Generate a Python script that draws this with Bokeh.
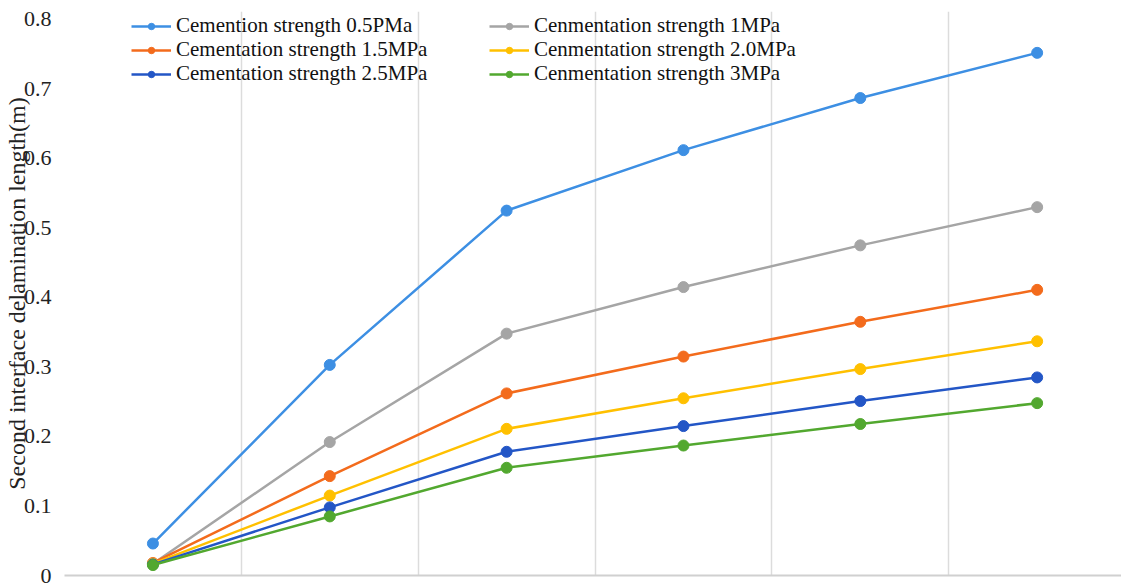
from bokeh.plotting import figure
from bokeh.models import Legend, LegendItem, FixedTicker, Range1d
from bokeh.embed import file_html
from bokeh.resources import INLINE

# ---- data ----
x_pos = [0, 1, 2, 3, 4, 5]
series_names = [
    "Cemention strength 0.5PMa",
    "Cenmentation strength 1MPa",
    "Cementation strength 1.5MPa",
    "Cenmentation strength 2.0MPa",
    "Cementation strength 2.5MPa",
    "Cenmentation strength 3MPa",
]
s05 = [0.046, 0.303, 0.525, 0.612, 0.687, 0.752]
s10 = [0.017, 0.192, 0.348, 0.415, 0.475, 0.530]
s15 = [0.018, 0.143, 0.262, 0.315, 0.365, 0.411]
s20 = [0.017, 0.115, 0.211, 0.255, 0.297, 0.337]
s25 = [0.016, 0.098, 0.178, 0.215, 0.251, 0.285]
s30 = [0.015, 0.085, 0.155, 0.187, 0.218, 0.248]
series_values = [s05, s10, s15, s20, s25, s30]
colors = ["#3d8fe3", "#a5a5a5", "#f36b1c", "#ffc000", "#2356c6", "#52a82f"]
y_ticks = [0, 0.1, 0.2, 0.3, 0.4, 0.5, 0.6, 0.7, 0.8]
y_tick_labels = ["0", "0.1", "0.2", "0.3", "0.4", "0.5", "0.6", "0.7", "0.8"]
y_label = "Second interface delamination length(m)"

FONT = "Liberation Serif"

p = figure(width=1121, height=584, output_backend="svg", toolbar_location=None,
           x_range=Range1d(-0.5, 5.477), y_range=Range1d(0, 0.8115),
           min_border_left=63, min_border_right=0, min_border_top=11, min_border_bottom=9)
p.outline_line_color = None
p.background_fill_color = "white"
p.border_fill_color = "white"

# grid (vertical lines between categories)
p.ygrid.grid_line_color = None
p.xgrid.ticker = FixedTicker(ticks=[-0.5, 0.5, 1.5, 2.5, 3.5, 4.5])
p.xgrid.grid_line_color = "#dcdcdc"
p.xgrid.grid_line_width = 1.5

# x axis
xa = p.xaxis[0]
xa.ticker = FixedTicker(ticks=[])
xa.axis_line_color = "#d0d0d0"
xa.axis_line_width = 2
xa.major_tick_line_color = None
xa.minor_tick_line_color = None
xa.major_tick_out = 0
xa.minor_tick_out = 0
xa.major_label_text_font_size = "0px"
xa.major_label_standoff = 0

# y axis
ya = p.yaxis[0]
ya.ticker = FixedTicker(ticks=y_ticks)
ya.major_label_overrides = {t: s for t, s in zip(y_ticks, y_tick_labels)}
ya.axis_line_color = None
ya.major_tick_line_color = None
ya.minor_tick_line_color = None
ya.major_tick_out = 0
ya.minor_tick_out = 0
ya.major_label_text_font = FONT
ya.major_label_text_font_size = "22px"
ya.major_label_text_color = "#222222"
ya.major_label_standoff = 13
ya.axis_label = y_label
ya.axis_label_text_font = FONT
ya.axis_label_text_font_size = "24px"
ya.axis_label_text_font_style = "normal"
ya.axis_label_text_color = "#222222"
ya.axis_label_standoff = -9

renderers = []
for name, vals, c in zip(series_names, series_values, colors):
    l = p.line(x_pos, vals, line_color=c, line_width=2.5)
    s = p.scatter(x_pos, vals, size=11, fill_color=c, line_color=c)
    renderers.append([l, s])

def make_legend(i, loc):
    lg = Legend(items=[LegendItem(label=series_names[i], renderers=renderers[i])],
                location=loc, orientation="vertical")
    lg.label_text_font = FONT
    lg.label_text_font_size = "21px"
    lg.label_text_color = "#111111"
    lg.glyph_width = 40
    lg.glyph_height = 16
    lg.label_height = 16
    lg.spacing = 0
    lg.padding = 0
    lg.margin = 0
    lg.label_standoff = 5
    lg.background_fill_alpha = 0
    lg.border_line_color = None
    return lg

# two columns x three rows (legend bottom-left corners, px from frame bottom-left)
col_x = [67, 425]
row_y = [537, 513, 489]
for i in range(6):
    p.add_layout(make_legend(i, (col_x[i % 2], row_y[i // 2])))

open("out.html", "w").write(file_html(p, INLINE))
